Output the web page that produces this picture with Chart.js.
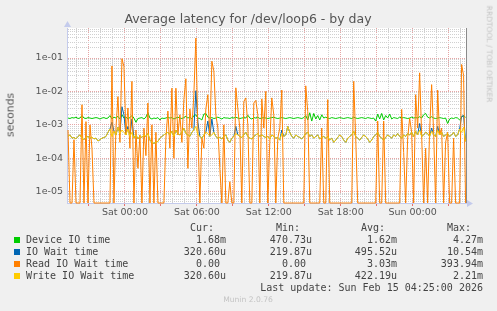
<!DOCTYPE html>
<html>
<head>
<meta charset="utf-8">
<script src="https://cdn.jsdelivr.net/npm/chart.js@4.4.0/dist/chart.umd.min.js"></script>
<style>
  body { margin: 0; background: #f0f0f0; width: 497px; height: 311px; overflow: hidden; position: relative; font-family: "DejaVu Sans", sans-serif; }
  #chart { position: absolute; left: 0; top: 0; }
  .txt { position: absolute; white-space: pre; line-height: 1; }
  .mono { font-family: "DejaVu Sans Mono", monospace; font-size: 10px; color: #444; }
  .box { position: absolute; width: 6px; height: 6px; }
</style>
</head>
<body>
<canvas id="chart" width="497" height="311"></canvas>
<script>
// time in minutes from Sat 00:00, one sample every 10 minutes
const startMin = -285;
const stepMin = 10;

// values in milliseconds
const deviceIoMs = [
  1.6, 1.55, 1.65, 1.6, 1.7, 1.55, 1.6, 1.9, 1.6, 1.55,
  1.65, 1.6, 1.55, 1.6, 1.65, 1.6, 1.5, 1.6, 1.65, 1.55,
  1.6, 1.9, 1.5, 1.7, 1.6, 1.8, 1.5, 2.0, 1.6, 1.7,
  1.5, 1.65, 1.9, 1.6, 1.2, 1.55, 1.6, 1.65, 1.5, 1.7,
  2.3, 1.6, 1.5, 1.6, 1.55, 1.65, 1.4, 1.6, 1.55, 1.6,
  1.7, 1.6, 1.65, 1.5, 1.6, 1.7, 1.6, 1.55, 1.65, 1.8,
  1.6, 1.7, 1.5, 1.9, 2.0, 1.6, 1.55, 1.4, 2.1, 2.2,
  1.7, 1.6, 1.65, 1.55, 1.6, 1.7, 1.6, 1.5, 1.65, 1.6,
  1.6, 1.55, 1.65, 1.6, 1.7, 1.6, 1.55, 1.6, 1.65, 1.6,
  1.95, 1.6, 1.5, 1.65, 1.6, 1.7, 1.55, 1.6, 1.65, 1.6,
  1.55, 1.6, 1.65, 1.7, 1.6, 1.55, 1.6, 1.65, 1.6, 1.55,
  1.6, 1.65, 1.6, 1.55, 1.6, 1.65, 1.6, 1.55, 1.65, 1.9,
  1.4, 2.3, 1.3, 2.2, 1.5, 1.9, 1.4, 2.0, 1.6, 1.7,
  1.6, 1.55, 1.65, 1.6, 1.55, 1.6, 1.65, 1.6, 1.55, 1.6,
  1.65, 1.6, 1.55, 1.7, 1.6, 1.55, 1.6, 1.65, 1.6, 1.55,
  1.65, 1.6, 1.55, 1.6, 1.3, 2.1, 1.5, 2.2, 1.4, 1.9,
  1.6, 2.1, 1.5, 1.65, 1.6, 1.55, 1.7, 1.6, 1.65, 1.6,
  1.55, 1.6, 1.7, 1.6, 1.65, 1.6, 1.75, 1.6, 2.0, 2.2,
  1.7, 1.6, 1.75, 1.6, 1.55, 1.6, 1.65, 1.6, 1.55, 1.6,
  1.1, 1.5, 1.6, 1.55, 1.65, 1.6, 1.4, 1.7, 1.9, 1.68
];
const ioWaitMs = [
  0.45, 0.5, 0.4, 0.42, 0.38, 0.45, 0.5, 0.4, 0.36, 0.42,
  0.45, 0.4, 0.43, 0.38, 0.4, 0.33, 0.36, 0.4, 0.42, 0.45,
  0.6, 0.75, 1.2, 0.65, 0.5, 0.85, 0.55, 3.5, 2.0, 0.5,
  0.9, 0.45, 1.5, 0.4, 0.5, 0.38, 0.45, 0.42, 0.5, 0.45,
  0.55, 0.35, 0.3, 0.28, 0.3, 0.32, 0.4, 0.45, 0.5, 0.55,
  0.6, 0.5, 0.65, 0.45, 0.7, 0.55, 0.5, 0.6, 0.8, 0.55,
  0.5, 0.45, 0.6, 0.7, 10.5, 1.2, 0.45, 0.4, 0.5, 0.6,
  1.3, 0.45, 1.5, 0.6, 0.45, 0.4, 0.42, 0.38, 0.45, 0.5,
  0.35, 0.3, 0.4, 0.45, 0.9, 0.5, 0.45, 0.42, 0.5, 0.6,
  0.45, 0.4, 0.38, 0.45, 0.5, 0.55, 0.45, 0.5, 0.45, 0.42,
  0.45, 0.38, 0.5, 0.45, 0.4, 0.42, 0.35, 0.7, 0.45, 0.5,
  0.9, 0.6, 0.45, 0.4, 0.5, 0.45, 0.42, 0.38, 0.45, 0.55,
  0.6, 0.45, 0.5, 0.4, 0.45, 0.5, 0.38, 0.42, 0.45, 0.4,
  0.45, 0.35, 0.4, 0.3, 0.35, 0.42, 0.5, 0.45, 0.35, 0.3,
  0.4, 0.45, 0.5, 0.65, 0.45, 0.4, 0.35, 0.42, 0.5, 0.45,
  0.38, 0.3, 0.35, 0.45, 0.5, 0.6, 0.45, 0.4, 0.35, 0.42,
  0.5, 0.45, 0.4, 0.5, 0.45, 0.55, 0.45, 0.4, 0.5, 0.45,
  0.55, 0.5, 0.6, 0.45, 0.65, 0.5, 1.1, 0.45, 0.5, 0.6,
  0.55, 0.45, 0.8, 0.5, 0.45, 0.9, 0.5, 0.6, 0.45, 0.5,
  0.55, 0.45, 0.5, 0.6, 0.45, 0.5, 0.75, 1.8, 1.9, 0.32
];
const readWaitMs = [
  0.7, 0, 0, 0.36, 0, 0, 0, 4, 0, 1.25,
  0, 1.0, 0.2, 0, 0, 0, 0, 0, 0, 0,
  0, 0, 58, 0, 0.8, 7, 0.3, 95, 56, 0.5,
  3.2, 0.2, 20, 0, 0.7, 0.05, 0.5, 0, 0.8, 0.12,
  4.5, 0, 1, 0, 0.6, 0, 0, 0, 0, 0.4,
  2.6, 0.2, 12.5, 0.1, 12.5, 0.5, 2, 0.3, 5.6, 24,
  0.05, 3, 0.8, 8, 394, 0.7, 0, 0.4, 0.2, 3,
  8, 0.5, 80, 41, 2, 0.8, 0.05, 0, 1, 0,
  0, 0.02, 0, 0, 12.8, 3, 0.8, 0, 5, 6.4,
  1, 0, 0, 4.5, 5.4, 2, 0, 6, 0.8, 10,
  0, 0.3, 6.4, 2, 0, 0.4, 0.8, 11, 0, 0,
  0, 0, 0, 0, 0, 0, 0, 0, 0, 14.7,
  2.5, 0, 0, 0, 0, 0, 0, 0.8, 0, 0,
  5.7, 0, 0, 0, 0, 0, 0, 0, 0, 0,
  0, 0, 0, 20, 0.4, 0, 0, 0, 0, 0,
  0, 0, 0, 0, 0, 1.3, 0, 0, 1.3, 0,
  0, 0, 0, 0, 0, 0, 0, 2.9, 0.15, 0,
  0.4, 1.6, 0.6, 0, 8, 0.8, 36, 0.5, 0, 0.2,
  0, 0.7, 16, 0.6, 0, 11, 0.5, 0.8, 0, 0.3,
  0.6, 0, 0, 0.4, 0, 0, 0, 64, 30, 0
];
const writeWaitMs = [
  0.45, 0.5, 0.4, 0.42, 0.38, 0.45, 0.5, 0.4, 0.36, 0.42,
  0.45, 0.4, 0.43, 0.38, 0.4, 0.33, 0.36, 0.4, 0.42, 0.45,
  0.6, 0.75, 0.45, 0.65, 0.5, 0.85, 0.55, 0.7, 0.6, 0.5,
  0.75, 0.45, 0.6, 0.4, 0.5, 0.38, 0.45, 0.42, 0.5, 0.45,
  0.55, 0.35, 0.3, 0.28, 0.3, 0.32, 0.4, 0.45, 0.5, 0.55,
  0.6, 0.5, 0.65, 0.45, 0.7, 0.55, 0.5, 0.6, 0.8, 0.55,
  0.5, 0.45, 0.6, 0.7, 0.9, 0.5, 0.45, 0.4, 0.5, 0.6,
  0.55, 0.45, 0.5, 0.6, 0.45, 0.4, 0.42, 0.38, 0.45, 0.5,
  0.35, 0.3, 0.4, 0.45, 0.55, 0.5, 0.45, 0.42, 0.5, 0.6,
  0.45, 0.4, 0.38, 0.45, 0.5, 0.55, 0.45, 0.5, 0.45, 0.42,
  0.45, 0.38, 0.5, 0.45, 0.4, 0.42, 0.35, 0.55, 0.45, 0.5,
  0.9, 0.6, 0.45, 0.4, 0.5, 0.45, 0.42, 0.38, 0.45, 0.55,
  0.6, 0.45, 0.5, 0.4, 0.45, 0.5, 0.38, 0.42, 0.45, 0.4,
  0.45, 0.35, 0.4, 0.3, 0.35, 0.42, 0.5, 0.45, 0.35, 0.3,
  0.4, 0.45, 0.5, 0.65, 0.45, 0.4, 0.35, 0.42, 0.5, 0.45,
  0.38, 0.3, 0.35, 0.45, 0.5, 0.6, 0.45, 0.4, 0.35, 0.42,
  0.5, 0.45, 0.4, 0.5, 0.45, 0.55, 0.45, 0.4, 0.5, 0.45,
  0.55, 0.5, 0.6, 0.45, 0.65, 0.5, 0.7, 0.45, 0.5, 0.6,
  0.55, 0.45, 0.65, 0.5, 0.45, 0.7, 0.5, 0.6, 0.45, 0.5,
  0.55, 0.45, 0.5, 0.6, 0.45, 0.5, 0.75, 0.6, 0.85, 0.32
];

const dayNames = ['Sat', 'Sun'];
const legendNames = ['Device IO time', 'IO Wait time', 'Read IO Wait time', 'Write IO Wait time'];
const legendColors = ['#00cc00', '#0066b3', '#ff8000', '#ffcc00'];
const curVals = ['1.68m', '320.60u', '0.00 ', '320.60u'];
const minVals = ['470.73u', '219.87u', '0.00 ', '219.87u'];
const avgVals = ['1.62m', '495.52u', '3.03m', '422.19u'];
const maxVals = ['4.27m', '10.54m', '393.94m', '2.21m'];

const yMin = 4.6e-6;
const yMax = 0.79;
const majorGrid = 'rgb(230,165,165)';
const minorGrid = 'rgb(208,208,208)';
const axisColor = '#c4cbec';
const labelFont = { family: 'DejaVu Sans', size: 9.5 };
const lineClip = { left: 0, top: 0, right: 0, bottom: 1 };

// a zero on a log axis sits on the floor of the plot, as rrdtool draws it
function toPoints(arr) {
  return arr.map((v, i) => ({ x: startMin + i * stepMin, y: Math.max(v / 1000, yMin) }));
}

function isDecade(v) {
  const l = Math.log10(v);
  return Math.abs(l - Math.round(l)) < 1e-6;
}

const framePlugin = {
  id: 'frame',
  beforeDraw(chart) {
    const { ctx, chartArea: a } = chart;
    ctx.save();
    ctx.fillStyle = '#f0f0f0';
    ctx.fillRect(0, 0, chart.width, chart.height);
    ctx.fillStyle = '#ffffff';
    ctx.fillRect(a.left, a.top, a.right - a.left, a.bottom - a.top);
    ctx.restore();
  },
  afterDraw(chart) {
    const { ctx, chartArea: a } = chart;
    ctx.save();
    ctx.strokeStyle = '#8a8a8a';
    ctx.beginPath();
    ctx.moveTo(a.right + 0.5, a.top);
    ctx.lineTo(a.right + 0.5, a.bottom);
    ctx.stroke();
    ctx.fillStyle = axisColor;
    ctx.beginPath();
    ctx.moveTo(a.left - 3, a.top - 1);
    ctx.lineTo(a.left + 4, a.top - 1);
    ctx.lineTo(a.left + 0.5, a.top - 7);
    ctx.fill();
    ctx.beginPath();
    ctx.moveTo(a.right + 1, a.bottom - 3);
    ctx.lineTo(a.right + 1, a.bottom + 4);
    ctx.lineTo(a.right + 7, a.bottom + 0.5);
    ctx.fill();
    ctx.restore();
  }
};

new Chart(document.getElementById('chart'), {
  type: 'line',
  data: {
    datasets: [
      { label: 'Write IO Wait time', data: toPoints(writeWaitMs), borderColor: '#ffcc00', order: 0, clip: lineClip },
      { label: 'Read IO Wait time', data: toPoints(readWaitMs), borderColor: '#ff8000', order: 1, clip: lineClip },
      { label: 'IO Wait time', data: toPoints(ioWaitMs), borderColor: '#0066b3', order: 2, clip: lineClip },
      { label: 'Device IO time', data: toPoints(deviceIoMs), borderColor: '#00cc00', order: 3, clip: lineClip }
    ]
  },
  options: {
    responsive: false,
    animation: false,
    devicePixelRatio: 1,
    layout: { padding: { left: 0, top: 28, right: 31, bottom: 0 } },
    plugins: { legend: { display: false }, tooltip: { enabled: false } },
    elements: { point: { radius: 0 }, line: { borderWidth: 1, tension: 0 } },
    scales: {
      x: {
        type: 'linear',
        min: -290,
        max: 1707,
        bounds: 'data',
        afterBuildTicks: s => {
          s.ticks = [];
          for (let t = -240; t <= 1680; t += 60) s.ticks.push({ value: t });
        },
        afterFit: s => { s.height = 108; },
        ticks: {
          autoSkip: false,
          maxRotation: 0,
          padding: 1,
          color: '#555',
          font: labelFont,
          callback: v => {
            if (v % 360 !== 0) return '';
            const h = ((v % 1440) + 1440) % 1440 / 60;
            return dayNames[Math.floor(v / 1440)] + ' ' + String(h).padStart(2, '0') + ':00';
          }
        },
        grid: {
          color: c => (c.tick && c.tick.value % 180 === 0) ? majorGrid : minorGrid,
          tickColor: c => (c.tick && c.tick.value % 180 === 0) ? 'rgb(230,110,110)' : 'rgba(0,0,0,0)',
          tickLength: 3
        },
        border: { display: true, color: axisColor, dash: [1, 1] }
      },
      y: {
        type: 'logarithmic',
        min: yMin,
        max: yMax,
        bounds: 'data',
        afterBuildTicks: s => {
          const t = [];
          for (let n = -6; n <= -1; n++) {
            for (let k = 1; k <= 9; k++) {
              const v = k * Math.pow(10, n);
              if (v >= s.min && v <= s.max) t.push({ value: v });
            }
          }
          s.ticks = t;
        },
        afterFit: s => { s.width = 67; },
        ticks: {
          autoSkip: false,
          padding: 4,
          color: '#555',
          font: labelFont,
          callback: v => isDecade(v) ? '1e-' + String(-Math.round(Math.log10(v))).padStart(2, '0') : ''
        },
        grid: {
          color: c => (c.tick && isDecade(c.tick.value)) ? majorGrid : minorGrid,
          drawTicks: false
        },
        border: { display: true, color: axisColor, dash: [1, 1] }
      }
    }
  },
  plugins: [framePlugin]
});

// text around the plot
function place(text, x, y, align, css, cls) {
  const d = document.createElement('div');
  d.className = 'txt' + (cls ? ' ' + cls : '');
  d.textContent = text;
  d.style.top = y + 'px';
  if (align === 'center') { d.style.left = x + 'px'; d.style.transform = 'translate(-50%,-50%)'; }
  else if (align === 'right') { d.style.right = (497 - x) + 'px'; d.style.transform = 'translateY(-50%)'; }
  else { d.style.left = x + 'px'; d.style.transform = 'translateY(-50%)'; }
  Object.assign(d.style, css || {});
  document.body.appendChild(d);
  return d;
}

place('Average latency for /dev/loop6 - by day', 248, 19, 'center', { fontSize: '12.5px', color: '#555' });
place('seconds', 11, 115, 'center', { fontSize: '10.8px', color: '#555', transform: 'translate(-50%,-50%) rotate(-90deg)' });
place('RRDTOOL / TOBI OETIKER', 488.5, 53.5, 'center', { fontSize: '7.5px', color: '#c4c4c4', transform: 'translate(-50%,-50%) rotate(90deg)' });

const colEdges = [226, 312, 397, 483];
const headers = ['Cur:', 'Min:', 'Avg:', 'Max:'];
headers.forEach((h, j) => place(h + '  ', colEdges[j], 228, 'right', null, 'mono'));
legendNames.forEach((name, i) => {
  const y = 240 + i * 11.9;
  const b = document.createElement('div');
  b.className = 'box';
  b.style.left = '14px';
  b.style.top = (y - 3) + 'px';
  b.style.background = legendColors[i];
  document.body.appendChild(b);
  place(name, 26, y, 'left', null, 'mono');
  [curVals, minVals, avgVals, maxVals].forEach((col, j) => place(col[i], colEdges[j], y, 'right', null, 'mono'));
});
place('Last update: Sun Feb 15 04:25:00 2026', 483, 288, 'right', null, 'mono');
place('Munin 2.0.76', 248, 300, 'center', { fontSize: '7.6px', color: '#c4c4c4', fontFamily: '"DejaVu Sans", sans-serif' });
</script>
</body>
</html>
